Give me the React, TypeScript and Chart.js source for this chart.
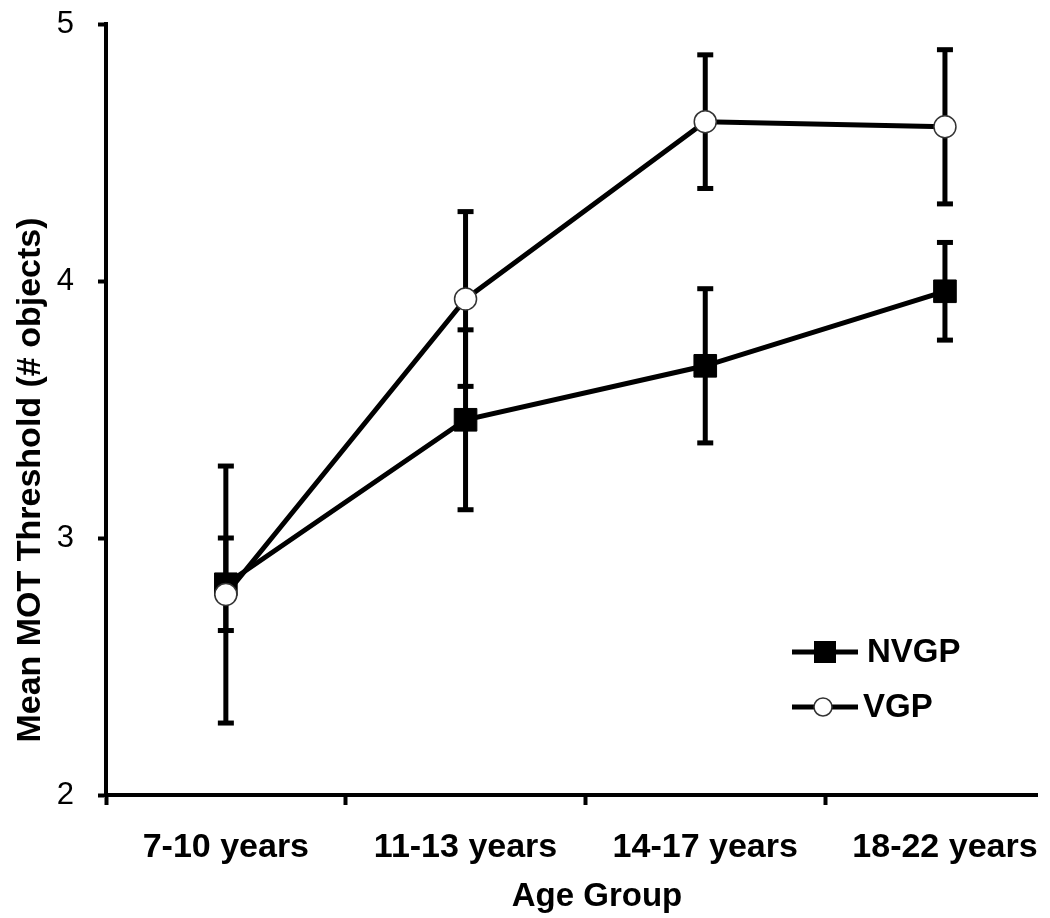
import React, { useEffect, useRef } from "react";
import { Chart, registerables } from "chart.js";

Chart.register(...registerables);

const categories = ["7-10 years", "11-13 years", "14-17 years", "18-22 years"];
const seriesNames = ["NVGP", "VGP"];
const nvgpMeans = [2.82, 3.46, 3.67, 3.96];
const nvgpErrors = [0.18, 0.35, 0.3, 0.19];
const vgpMeans = [2.78, 3.93, 4.62, 4.6];
const vgpErrors = [0.5, 0.34, 0.26, 0.3];
const yTicks = [2, 3, 4, 5];
const xBoundaries = [-0.5, 0.5, 1.5, 2.5];
const yTitle = "Mean MOT Threshold (# objects)";
const xTitle = "Age Group";

const FONT = "'Liberation Sans', Arial, sans-serif";

const zeroPadding = (s: any) => {
  s.paddingTop = 0;
  s.paddingBottom = 0;
  s.paddingLeft = 0;
  s.paddingRight = 0;
};

const errorBarPlugin = {
  id: "errorBars",
  beforeDatasetsDraw(chart: any) {
    const ctx = chart.ctx;
    const xs = chart.scales.x;
    const ys = chart.scales.y;
    const sets: [number[], number[]][] = [
      [nvgpMeans, nvgpErrors],
      [vgpMeans, vgpErrors],
    ];
    ctx.save();
    ctx.fillStyle = "#000";
    sets.forEach(([m, e]) => {
      m.forEach((v, i) => {
        const px = xs.getPixelForValue(i);
        const top = ys.getPixelForValue(v + e[i]);
        const bot = ys.getPixelForValue(v - e[i]);
        ctx.fillRect(px - 2.5, top, 5, bot - top);
        ctx.fillRect(px - 8, top - 2.5, 16, 5);
        ctx.fillRect(px - 8, bot - 2.5, 16, 5);
      });
    });
    ctx.restore();
  },
};

const textPlugin = {
  id: "textAndLegend",
  afterDraw(chart: any) {
    const ctx = chart.ctx;
    ctx.save();
    ctx.fillStyle = "#000";
    ctx.font = `bold 34px ${FONT}`;
    ctx.textAlign = "center";
    ctx.textBaseline = "middle";
    // y title
    ctx.save();
    ctx.translate(31, 480);
    ctx.rotate(-Math.PI / 2);
    ctx.fillText(yTitle, 0, 0);
    ctx.restore();
    // x title
    ctx.font = `bold 33px ${FONT}`;
    ctx.fillText(xTitle, 597, 897);

    // legend
    const rows = [
      { y: 652, name: seriesNames[0], textX: 867, kind: "rect" },
      { y: 707, name: seriesNames[1], textX: 863, kind: "circle" },
    ];
    rows.forEach((r) => {
      ctx.fillStyle = "#000";
      ctx.fillRect(792, r.y - 2.5, 66, 5);
      if (r.kind === "rect") {
        ctx.fillRect(814, r.y - 11, 22, 22);
      } else {
        ctx.beginPath();
        ctx.arc(823, r.y, 9, 0, Math.PI * 2);
        ctx.fillStyle = "#fff";
        ctx.fill();
        ctx.lineWidth = 1.5;
        ctx.strokeStyle = "#333";
        ctx.stroke();
      }
      ctx.fillStyle = "#000";
      ctx.font = `bold 33px ${FONT}`;
      ctx.textAlign = "left";
      ctx.textBaseline = "middle";
      ctx.fillText(r.name, r.textX, r.y + 1);
    });
    ctx.restore();
  },
};

export default function App() {
  const ref = useRef<HTMLCanvasElement | null>(null);

  useEffect(() => {
    if (!ref.current) return;
    const xMax = 3.384;
    const chart = new Chart(ref.current, {
      type: "line",
      data: {
        datasets: [
          {
            label: seriesNames[0],
            data: nvgpMeans.map((y, i) => ({ x: i, y })),
            xAxisID: "x",
            yAxisID: "y",
            borderColor: "#000",
            borderWidth: 5,
            backgroundColor: "#000",
            pointStyle: "rect",
            pointRadius: 16,
            pointBackgroundColor: "#000",
            pointBorderColor: "#000",
            pointBorderWidth: 1,
            tension: 0,
            order: 2,
            clip: false,
          } as any,
          {
            label: seriesNames[1],
            data: vgpMeans.map((y, i) => ({ x: i, y })),
            xAxisID: "x",
            yAxisID: "y",
            borderColor: "#000",
            borderWidth: 5,
            backgroundColor: "#fff",
            pointStyle: "circle",
            pointRadius: 11,
            pointBackgroundColor: "#fff",
            pointBorderColor: "#333",
            pointBorderWidth: 1.5,
            tension: 0,
            order: 1,
            clip: false,
          } as any,
        ],
      },
      options: {
        animation: false,
        responsive: false,
        devicePixelRatio: 1,
        layout: { autoPadding: false, padding: { top: 24, right: 13, left: 0, bottom: 0 } },
        plugins: {
          legend: { display: false },
          tooltip: { enabled: false },
          title: { display: false },
        },
        scales: {
          x: {
            type: "linear",
            position: "bottom",
            min: -0.5,
            max: xMax,
            afterBuildTicks: (s: any) => {
              s.ticks = xBoundaries.map((v) => ({ value: v }));
            },
            ticks: { display: false },
            grid: {
              drawOnChartArea: false,
              drawTicks: true,
              tickLength: 10,
              tickWidth: 4,
              tickColor: "#000",
            },
            border: { display: true, width: 4, color: "#000" },
            afterFit: (s: any) => {
              s.height = 10;
              zeroPadding(s);
            },
          },
          xLabels: {
            type: "linear",
            axis: "x",
            position: "bottom",
            min: -0.5,
            max: xMax,
            afterBuildTicks: (s: any) => {
              s.ticks = categories.map((_, i) => ({ value: i }));
            },
            ticks: {
              callback: (v: any) => categories[v as number] ?? "",
              font: { family: FONT, size: 34, weight: "bold" },
              color: "#000",
              padding: 14,
              maxRotation: 0,
              autoSkip: false,
            },
            grid: { display: false },
            border: { display: false },
            afterFit: (s: any) => {
              s.height = 113;
              zeroPadding(s);
            },
          },
          y: {
            type: "linear",
            min: 2,
            max: 5,
            afterBuildTicks: (s: any) => {
              s.ticks = yTicks.map((v) => ({ value: v }));
            },
            ticks: {
              font: { family: FONT, size: 31 },
              color: "#000",
              padding: 24,
            },
            grid: {
              drawOnChartArea: false,
              drawTicks: true,
              tickLength: 8,
              tickWidth: 4,
              tickColor: "#000",
            },
            border: { display: true, width: 4, color: "#000" },
            afterFit: (s: any) => {
              s.width = 106;
              zeroPadding(s);
            },
          },
        },
      } as any,
      plugins: [errorBarPlugin, textPlugin],
    });
    return () => chart.destroy();
  }, []);

  return (
    <div style={{ position: "absolute", left: 0, top: 0, width: 1050, height: 918, background: "#fff" }}>
      <canvas ref={ref} width={1050} height={918} style={{ display: "block" }} />
    </div>
  );
}
